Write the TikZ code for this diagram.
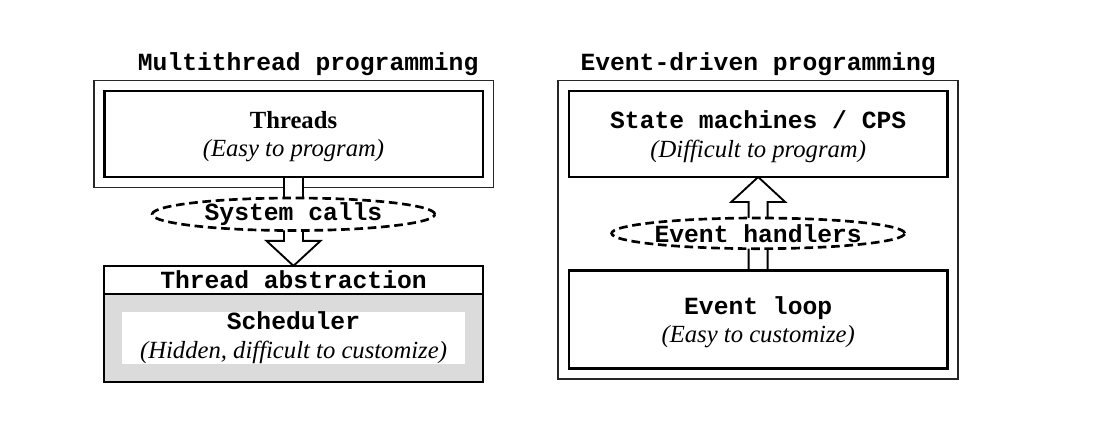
\documentclass[tikz,border=0pt]{standalone}
\usepackage{fontspec}
\setmainfont{Liberation Serif}
\setmonofont{Liberation Mono}
\usetikzlibrary{positioning,calc,shapes.geometric,fit,backgrounds}

\begin{document}
\begin{tikzpicture}[
  x=0.75pt, y=-0.75pt,
  font=\fontsize{18.5}{21.5}\selectfont,
  ibox/.style={draw=black, line width=2pt, fill=white, align=center, outer sep=0pt,
               inner sep=0pt, text depth=0pt, minimum width=284pt, minimum height=64.5pt},
  pframe/.style={draw=black!85, line width=1.3pt, inner sep=7.9pt},
  ptitle/.style={font=\fontsize{18.5}{21}\selectfont\ttfamily\bfseries, inner sep=2pt},
  iface/.style={ellipse, draw=black, fill=white, line width=2pt,
                dash pattern=on 6.5pt off 3.5pt, minimum width=212pt, minimum height=23pt,
                inner sep=0pt, outer sep=0pt, font=\fontsize{18.5}{21}\selectfont\ttfamily\bfseries},
  barrow/.style={draw=black, fill=white, line width=1.4pt, line join=miter},
  node distance=16pt
]
\useasboundingbox (0,0) rectangle (1112,426);
% ----- multithread side -----
\node[ibox] (threads) at (293.5,134) {\textbf{Threads}\\\textit{(Easy to program)}};
\node[iface, below=15.75pt of threads] (syscalls) {System calls};
\node[ibox, line width=1.6pt, minimum height=21pt, below=26.5pt of syscalls] (abshead)
  {\texttt{\textbf{Thread abstraction}}};
\node[ibox, line width=1.6pt, minimum height=66pt, fill=black!14, below=0pt of abshead] (sched) {};
\node[fill=white, align=center, inner sep=0pt, minimum width=257pt, minimum height=38pt] (schedtxt)
  at (sched.center) {\texttt{\textbf{Scheduler}}\\\textit{(Hidden, difficult to customize)}};
% ----- event-driven side -----
\node[ibox, right=64.5pt of threads] (state)
  {\texttt{\textbf{State machines / CPS}}\\\textit{(Difficult to program)}};
\node[iface, below=30.75pt of state] (evh) {Event handlers};
\node[ibox, minimum height=73.5pt, below=16.5pt of evh] (evloop)
  {\texttt{\textbf{Event loop}}\\\textit{(Easy to customize)}};
% ----- frames and block arrows, behind -----
\begin{pgfonlayer}{background}
  \node[pframe, fit=(threads)] (mtframe) {};
  \node[pframe, fit=(state)(evloop)] (edframe) {};
  \foreach \a/\b/\s in {threads.south/abshead.north/-1, evloop.north/state.south/1}{
    \draw[barrow] ($(\a)+(-9.5,0)$) -- ($(\b)+(-9.5,25*\s)$) -- ($(\b)+(-27,25*\s)$) -- (\b)
      -- ($(\b)+(27,25*\s)$) -- ($(\b)+(9.5,25*\s)$) -- ($(\a)+(9.5,0)$);}
\end{pgfonlayer}
% ----- titles -----
\node[ptitle, above=1pt of mtframe.north, xshift=11pt] (mttitle) {Multithread programming};
\node[ptitle, above=1pt of edframe.north] (edtitle) {Event-driven programming};
\end{tikzpicture}
\end{document}
